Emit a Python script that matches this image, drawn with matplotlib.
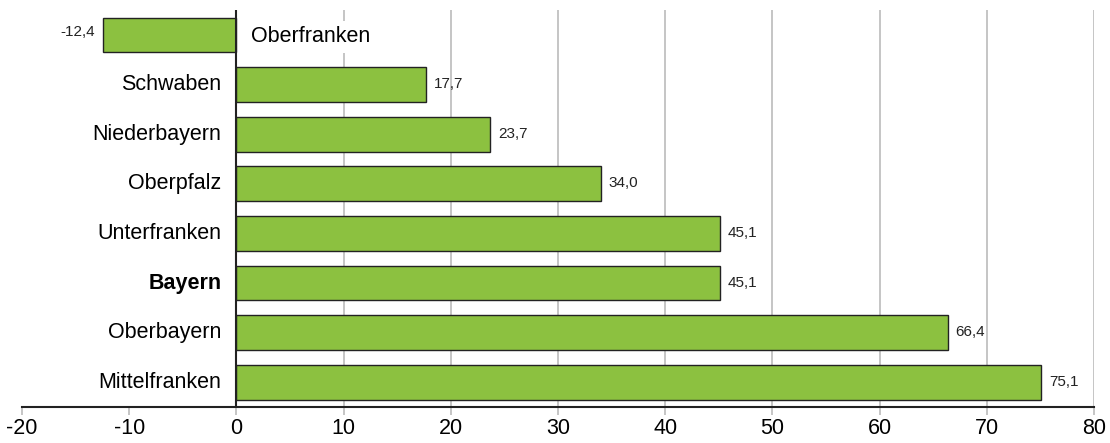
import matplotlib.pyplot as plt
import matplotlib.ticker as mticker

plt.rcParams['font.family'] = ['Liberation Sans', 'DejaVu Sans']

# Daten
regionen = ['Oberfranken', 'Schwaben', 'Niederbayern', 'Oberpfalz',
            'Unterfranken', 'Bayern', 'Oberbayern', 'Mittelfranken']
werte = [-12.4, 17.7, 23.7, 34.0, 45.1, 45.1, 66.4, 75.1]
xticks = [-20, -10, 0, 10, 20, 30, 40, 50, 60, 70, 80]

fig = plt.figure(figsize=(11.1, 4.43), dpi=100)
ax = fig.add_axes([0.0198, 0.081, 0.9658, 0.896])

pos = list(range(len(regionen)))
ax.barh(pos, werte, height=0.7, color='#8cc140', edgecolor='#222222',
        linewidth=1.0, zorder=3)

ax.set_xlim(-20, 80)
ax.set_ylim(len(regionen) - 0.5, -0.5)

# Gitterlinien nur im positiven Bereich
for x in xticks:
    if x > 0:
        ax.axvline(x, color='#bbbbbb', linewidth=1.2, zorder=1)
ax.axvline(0, color='#222222', linewidth=1.5, zorder=4)

ax.set_xticks(xticks)
ax.set_xticklabels([str(x) for x in xticks], fontsize=15.5)
ax.tick_params(axis='x', direction='out', length=6, width=1.2,
               color='#bbbbbb', pad=2)
ax.set_yticks([])

for s in ['top', 'right', 'left']:
    ax.spines[s].set_visible(False)
ax.spines['bottom'].set_color('#222222')
ax.spines['bottom'].set_linewidth(1.5)
ax.spines['bottom'].set_zorder(5)

# Beschriftungen
for i, (name, w) in enumerate(zip(regionen, werte)):
    lab = f'{w:.1f}'.replace('.', ',')
    if w >= 0:
        ax.text(-1.4, i, name, ha='right', va='center', fontsize=15.5,
                fontweight='bold' if name == 'Bayern' else 'normal', zorder=6)
        ax.text(w + 0.7, i - 0.01, lab, ha='left', va='center', fontsize=11,
                color='#222222', zorder=6)
    else:
        ax.text(1.4, i + 0.04, name, ha='left', va='center', fontsize=15.5,
                zorder=6, bbox=dict(facecolor='white', edgecolor='none', pad=4))
        ax.text(w - 0.8, i - 0.06, lab, ha='right', va='center', fontsize=11,
                color='#222222', zorder=6)

fig.savefig('out.png', dpi=100)
